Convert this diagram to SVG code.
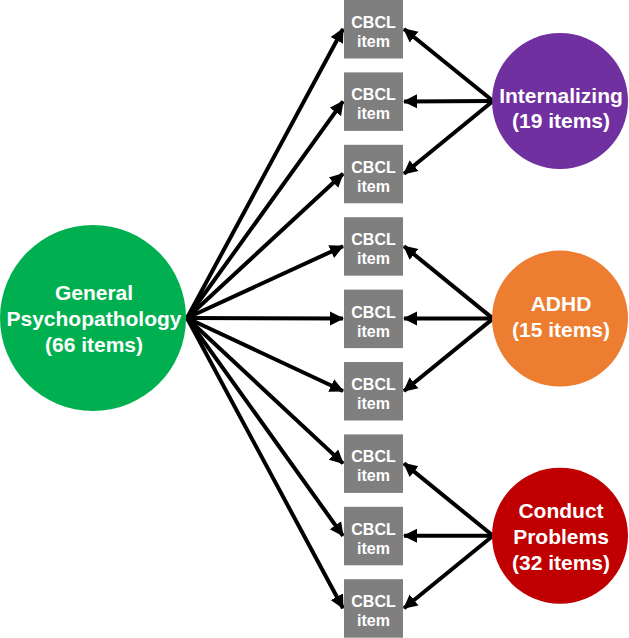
<svg xmlns="http://www.w3.org/2000/svg" width="629" height="638" viewBox="0 0 629 638">
<defs>
<style>
.box{fill:#7f7f7f}
.bt{fill:#fff;font-family:"Liberation Sans",Arial,sans-serif;font-weight:bold;font-size:16px;text-anchor:middle}
.ct{fill:#fff;font-family:"Liberation Sans",Arial,sans-serif;font-weight:bold;font-size:21px;text-anchor:middle}
.ar{stroke:#000;stroke-width:4;fill:none;marker-end:url(#ah)}
</style>
<marker id="ah" markerUnits="userSpaceOnUse" markerWidth="14" markerHeight="16" viewBox="0 0 14 16" refX="13" refY="8" orient="auto">
<path d="M0,1 L14,8 L0,15 z" fill="#000"/>
</marker>
</defs>
<g id="connectors">
<line class="ar" x1="187" y1="318" x2="343" y2="29"/>
<line class="ar" x1="187" y1="318" x2="343" y2="101.4"/>
<line class="ar" x1="187" y1="318" x2="343" y2="173.8"/>
<line class="ar" x1="187" y1="318" x2="343" y2="246.2"/>
<line class="ar" x1="187" y1="318" x2="343" y2="318.6"/>
<line class="ar" x1="187" y1="318" x2="343" y2="391"/>
<line class="ar" x1="187" y1="318" x2="343" y2="463.4"/>
<line class="ar" x1="187" y1="318" x2="343" y2="535.8"/>
<line class="ar" x1="187" y1="318" x2="343" y2="608.2"/>
<line class="ar" x1="493" y1="101" x2="404" y2="29"/>
<line class="ar" x1="493" y1="101" x2="404" y2="101.4"/>
<line class="ar" x1="493" y1="101" x2="404" y2="173.8"/>
<line class="ar" x1="493" y1="318.6" x2="404" y2="246.2"/>
<line class="ar" x1="493" y1="318.6" x2="404" y2="318.6"/>
<line class="ar" x1="493" y1="318.6" x2="404" y2="391"/>
<line class="ar" x1="493" y1="535.8" x2="404" y2="463.4"/>
<line class="ar" x1="493" y1="535.8" x2="404" y2="535.8"/>
<line class="ar" x1="493" y1="535.8" x2="404" y2="608.2"/>
</g>
<g id="item1"><rect class="box" x="344" y="0" width="59" height="58.5"/><text class="bt" x="373.5" y="28">CBCL</text><text class="bt" x="373.5" y="47">item</text></g>
<g id="item2"><rect class="box" x="344" y="72.4" width="59" height="58.5"/><text class="bt" x="373.5" y="100.4">CBCL</text><text class="bt" x="373.5" y="119.4">item</text></g>
<g id="item3"><rect class="box" x="344" y="144.8" width="59" height="58.5"/><text class="bt" x="373.5" y="172.8">CBCL</text><text class="bt" x="373.5" y="191.8">item</text></g>
<g id="item4"><rect class="box" x="344" y="217.2" width="59" height="58.5"/><text class="bt" x="373.5" y="245.2">CBCL</text><text class="bt" x="373.5" y="264.2">item</text></g>
<g id="item5"><rect class="box" x="344" y="289.6" width="59" height="58.5"/><text class="bt" x="373.5" y="317.6">CBCL</text><text class="bt" x="373.5" y="336.6">item</text></g>
<g id="item6"><rect class="box" x="344" y="362" width="59" height="58.5"/><text class="bt" x="373.5" y="390">CBCL</text><text class="bt" x="373.5" y="409">item</text></g>
<g id="item7"><rect class="box" x="344" y="434.4" width="59" height="58.5"/><text class="bt" x="373.5" y="462.4">CBCL</text><text class="bt" x="373.5" y="481.4">item</text></g>
<g id="item8"><rect class="box" x="344" y="506.8" width="59" height="58.5"/><text class="bt" x="373.5" y="534.8">CBCL</text><text class="bt" x="373.5" y="553.8">item</text></g>
<g id="item9"><rect class="box" x="344" y="579.2" width="59" height="58.5"/><text class="bt" x="373.5" y="607.2">CBCL</text><text class="bt" x="373.5" y="626.2">item</text></g>
<g id="general"><circle cx="93" cy="318" r="93" fill="#00b050"/><text class="ct" x="94" y="300">General</text><text class="ct" x="94" y="326">Psychopathology</text><text class="ct" x="94" y="352">(66 items)</text></g>
<g id="internalizing"><circle cx="560" cy="101" r="68" fill="#7030a0"/><text class="ct" x="561" y="103">Internalizing</text><text class="ct" x="561" y="128">(19 items)</text></g>
<g id="adhd"><circle cx="560" cy="318.6" r="68" fill="#ed7d31"/><text class="ct" x="561" y="311">ADHD</text><text class="ct" x="561" y="337">(15 items)</text></g>
<g id="conduct"><circle cx="560" cy="535.8" r="68" fill="#c00000"/><text class="ct" x="561" y="518">Conduct</text><text class="ct" x="561" y="544">Problems</text><text class="ct" x="561" y="570">(32 items)</text></g>
</svg>
